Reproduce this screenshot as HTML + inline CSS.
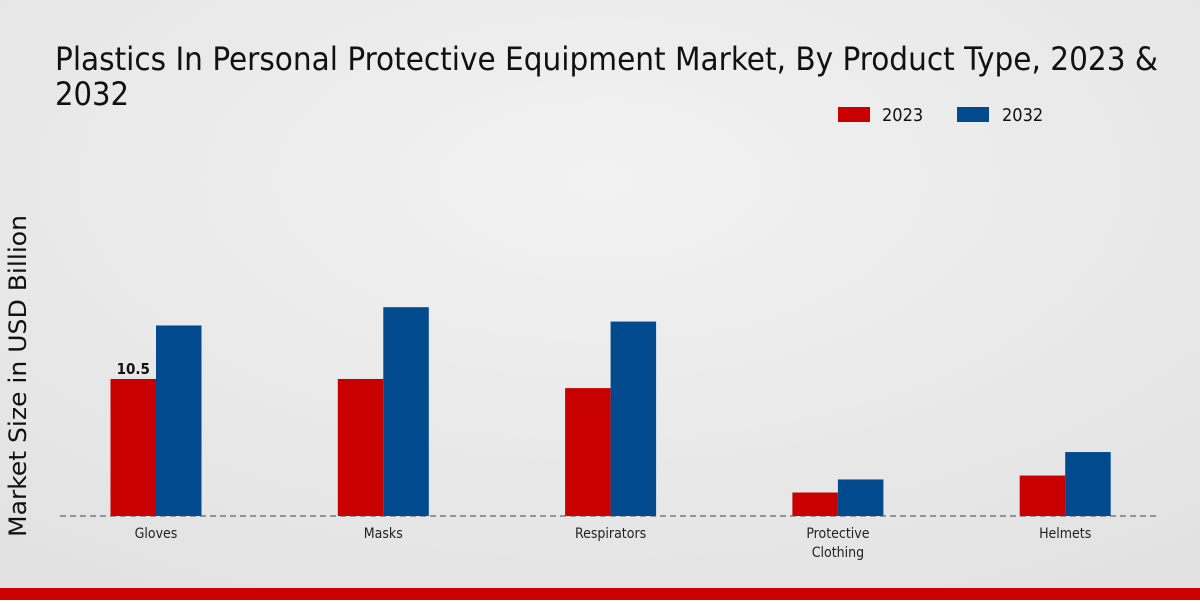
<!DOCTYPE html>
<html><head><meta charset="utf-8"><style>
body{margin:0;width:1200px;height:600px;overflow:hidden;font-family:"DejaVu Sans Condensed","DejaVu Sans","Liberation Sans",sans-serif}
</style></head><body>
<svg width="1200" height="600" xmlns="http://www.w3.org/2000/svg">
<defs><radialGradient id="bg" cx="0.5" cy="0.3" r="0.8"><stop offset="0" stop-color="#f2f2f2"/><stop offset="1" stop-color="#e2e2e2"/></radialGradient></defs>
<rect width="1200" height="600" fill="url(#bg)"/>
<rect y="588" width="1200" height="12" fill="#cc0000"/>
<text x="55" y="70" font-size="32" fill="#111" font-stretch="condensed" textLength="1103" lengthAdjust="spacingAndGlyphs">Plastics In Personal Protective Equipment Market, By Product Type, 2023 &amp;</text>
<text x="55" y="105" font-size="32" fill="#111" font-stretch="condensed" textLength="74" lengthAdjust="spacingAndGlyphs">2032</text>
<rect x="838" y="107" width="32" height="15" fill="#c80000"/>
<text x="882" y="121" font-size="18" fill="#111">2023</text>
<rect x="957" y="107" width="32" height="15" fill="#004a8d"/>
<text x="1002" y="121" font-size="18" fill="#111">2032</text>
<text transform="translate(26,376) rotate(-90)" text-anchor="middle" font-size="24" fill="#111" textLength="322" lengthAdjust="spacingAndGlyphs">Market Size in USD Billion</text>
<g id="plot"></g>
<line x1="60" y1="516" x2="1160" y2="516" stroke="#444" stroke-dasharray="6,4"/>
</svg>
<script>
const categories=["Gloves","Masks","Respirators","Protective\nClothing","Helmets"];
const values2023=[10.5,10.5,9.8,1.8,3.1];
const values2032=[14.6,16.0,14.9,2.8,4.9];
const labelShown=[0];
const base=516, scale=13.05, x0=156, step=227.3, bw=45.5;
const ns="http://www.w3.org/2000/svg";
const g=document.getElementById("plot");
const y=v=>base-v*scale;
const xc=i=>x0+i*step;
function mk(t,a){const e=document.createElementNS(ns,t);for(const k in a)e.setAttribute(k,a[k]);g.appendChild(e);return e;}
categories.forEach((c,i)=>{
 const r=mk("rect",{x:xc(i)-bw,y:y(values2023[i]),width:bw,height:values2023[i]*scale,fill:"#c80000"});
 
 
 const b=mk("rect",{x:xc(i),y:y(values2032[i]),width:bw,height:values2032[i]*scale,fill:"#004a8d"});
 
 
 c.split("\n").forEach((ln,j)=>{
  const t=mk("text",{x:xc(i),y:538+j*19,"text-anchor":"middle","font-size":"14",fill:"#222"});
  t.textContent=ln;
  
  
 });
});
labelShown.forEach(i=>{
 const t=mk("text",{x:xc(i)-bw/2,y:y(values2023[i])-5,"text-anchor":"middle","font-size":"15","font-weight":"bold",fill:"#111"});
 t.textContent=values2023[i];
 
 
});
</script>
</body></html>
